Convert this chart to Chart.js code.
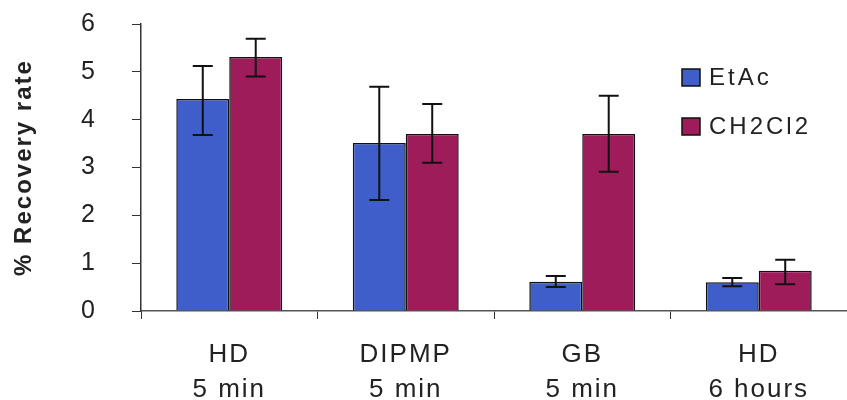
<!DOCTYPE html>
<html>
<head>
<meta charset="utf-8">
<script src="https://cdn.jsdelivr.net/npm/chart.js@4.4.1/dist/chart.umd.min.js"></script>
<style>
    html, body { margin: 0; padding: 0; background: #fff; }
    #wrap { width: 847px; height: 400px; }
</style>
</head>
<body>
<div id="wrap"><canvas id="chartRecovery" width="847" height="400"></canvas></div>
<script>
const categorias = [['HD', '5 min'], ['DIPMP', '5 min'], ['GB', '5 min'], ['HD', '6 hours']];
const yTicks = [0, 1, 2, 3, 4, 5, 6];

const etac = [4.43, 3.51, 0.61, 0.60];
const etacLow = [3.68, 2.32, 0.50, 0.52];
const etacHigh = [5.12, 4.69, 0.73, 0.69];

const ch2cl2 = [5.31, 3.70, 3.70, 0.84];
const ch2cl2Low = [4.90, 3.10, 2.91, 0.56];
const ch2cl2High = [5.69, 4.33, 4.50, 1.07];

const FONT = '"Liberation Sans", Arial, sans-serif';

// espaciado de letras como en el escaneo original
const spacing = {
    id: 'spacing',
    beforeDraw(chart) {
        chart.ctx.letterSpacing = '2px';
    }
};

const errorBars = {
    id: 'errorBars',
    afterDatasetsDraw(chart) {
        const ctx = chart.ctx;
        const y = chart.scales.y;
        ctx.save();
        ctx.strokeStyle = '#111';
        ctx.lineWidth = 2;
        chart.data.datasets.forEach((ds, i) => {
            const meta = chart.getDatasetMeta(i);
            meta.data.forEach((bar, j) => {
                const top = y.getPixelForValue(ds.high[j]);
                const bot = y.getPixelForValue(ds.low[j]);
                const x = bar.x;
                const cap = 10;
                ctx.beginPath();
                ctx.moveTo(x, top); ctx.lineTo(x, bot);
                ctx.moveTo(x - cap, top); ctx.lineTo(x + cap, top);
                ctx.moveTo(x - cap, bot); ctx.lineTo(x + cap, bot);
                ctx.stroke();
            });
        });
        ctx.restore();
    }
};

const cornerLegend = {
    id: 'cornerLegend',
    afterDraw(chart) {
        const ctx = chart.ctx;
        ctx.save();
        ctx.font = '24px ' + FONT;
        ctx.letterSpacing = '3px';
        ctx.textBaseline = 'middle';
        chart.data.datasets.forEach((ds, i) => {
            const cy = 77 + i * 49;
            ctx.fillStyle = ds.backgroundColor;
            ctx.fillRect(682, cy - 8, 18, 17);
            ctx.strokeStyle = '#111';
            ctx.lineWidth = 1.5;
            ctx.strokeRect(682, cy - 8, 18, 17);
            ctx.fillStyle = '#222';
            ctx.fillText(ds.label, 709, cy + 1);
        });
        ctx.restore();
    }
};

new Chart(document.getElementById('chartRecovery').getContext('2d'), {
    type: 'bar',
    data: {
        labels: categorias,
        datasets: [{
            label: 'EtAc',
            data: etac,
            low: etacLow,
            high: etacHigh,
            backgroundColor: '#3f5ec9',
            borderColor: '#111',
            borderWidth: 1.5
        }, {
            label: 'CH2Cl2',
            data: ch2cl2,
            low: ch2cl2Low,
            high: ch2cl2High,
            backgroundColor: '#9f1c5b',
            borderColor: '#111',
            borderWidth: 1.5
        }]
    },
    options: {
        responsive: false,
        animation: false,
        layout: { padding: 0 },
        datasets: {
            bar: { categoryPercentage: 0.6, barPercentage: 1.0 }
        },
        plugins: {
            legend: { display: false },
            tooltip: { enabled: false }
        },
        scales: {
            x: {
                offset: true,
                grid: {
                    offset: true,
                    drawOnChartArea: false,
                    tickLength: 8,
                    color: '#333'
                },
                border: { color: '#555', width: 1.5 },
                ticks: {
                    color: '#222',
                    font: { family: FONT, size: 26, lineHeight: 1.35 },
                    padding: 18,
                    maxRotation: 0
                },
                afterFit(scale) { scale.height = 89; }
            },
            y: {
                min: 0,
                max: 6,
                afterBuildTicks(scale) {
                    scale.ticks = yTicks.map(v => ({ value: v }));
                },
                grid: {
                    drawOnChartArea: false,
                    tickLength: 9,
                    color: '#333'
                },
                border: { color: '#333', width: 1.5 },
                ticks: {
                    color: '#222',
                    font: { family: FONT, size: 25 },
                    padding: 35
                },
                title: {
                    display: true,
                    text: '% Recovery rate',
                    color: '#222',
                    font: { family: FONT, size: 24, weight: 'bold' },
                    padding: { top: 10, bottom: 0 }
                },
                afterFit(scale) {
                    scale.width = 141;
                    scale.paddingTop = 24;
                    scale.paddingBottom = 10;
                }
            }
        }
    },
    plugins: [spacing, errorBars, cornerLegend]
});
</script>
</body>
</html>
